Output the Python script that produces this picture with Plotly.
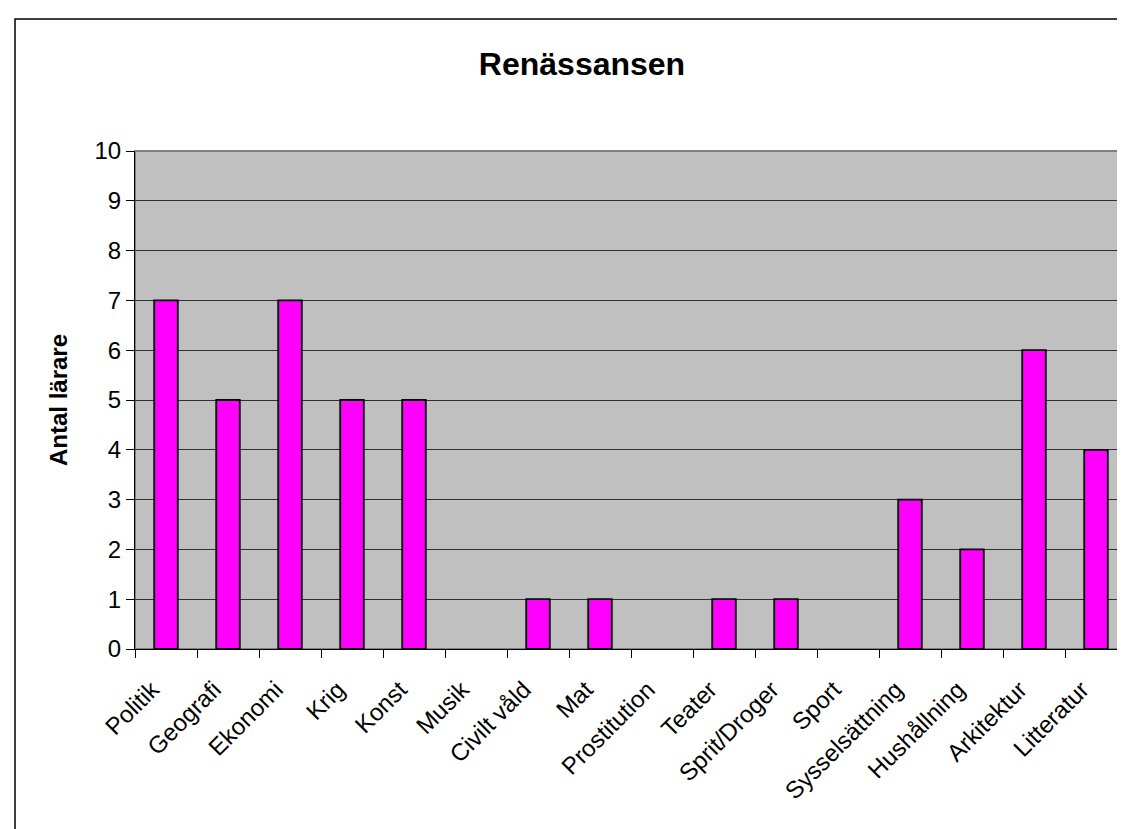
import plotly.graph_objects as go

# Data
categories = ['Politik', 'Geografi', 'Ekonomi', 'Krig', 'Konst', 'Musik',
              'Civilt våld', 'Mat', 'Prostitution', 'Teater', 'Sprit/Droger',
              'Sport', 'Sysselsättning', 'Hushållning', 'Arkitektur', 'Litteratur']
antal = [7, 5, 7, 5, 5, 0, 1, 1, 0, 1, 1, 0, 3, 2, 6, 4]
y_ticks = list(range(0, 11))

FONT = 'Liberation Sans, Arial, sans-serif'

fig = go.Figure()
fig.add_bar(
    x=categories,
    y=antal,
    width=0.38,
    marker=dict(color='#FF00FF',
                line=dict(color='black',
                          width=[1.8 if v > 0 else 0 for v in antal])),
    showlegend=False,
)

W, H = 1125, 829
L, R, T, B = 127, 6, 143, 188
pw, ph = W - L - R, H - T - B

fig.update_layout(
    width=W, height=H,
    margin=dict(l=L, r=R, t=T, b=B),
    paper_bgcolor='white',
    plot_bgcolor='#C0C0C0',
    font=dict(family=FONT, size=24, color='black'),
    title=dict(text='<b>Renässansen</b>', font=dict(size=32, family=FONT),
               xref='container', x=574 / W, xanchor='center',
               yref='container', y=1 - 56 / H, yanchor='middle'),
)

fig.update_xaxes(
    type='category',
    showgrid=False,
    showline=True, linecolor='black', linewidth=1,
    ticks='outside', tickson='boundaries', ticklen=8, tickcolor='black',
    tickangle=-45,
    ticklabelstandoff=16,
    ticklabelshift=-14,
    tickfont=dict(size=24),
)
fig.update_yaxes(
    range=[0, 10],
    tickvals=y_ticks,
    showgrid=True, gridcolor='#303030', gridwidth=1,
    zeroline=False,
    showline=True, linecolor='black', linewidth=1,
    ticks='outside', ticklen=8, tickcolor='black',
    tickfont=dict(size=24),
)

# Y axis title
fig.add_annotation(
    text='<b>Antal lärare</b>', textangle=-90,
    xref='paper', yref='paper',
    x=(50 - L) / pw, y=0.5, xanchor='center', yanchor='middle',
    showarrow=False, font=dict(size=24, family=FONT),
)

# Plot area border (gray) and chart outer border (black, runs off the page)
fig.add_shape(type='rect', xref='paper', yref='paper',
              x0=0, x1=1, y0=0, y1=1,
              line=dict(color='#808080', width=2), layer='below')
fig.add_shape(type='rect', xref='paper', yref='paper',
              x0=(7 - L) / pw, x1=(W + 20 - L) / pw,
              y0=(T + ph - (H + 20)) / ph, y1=(T + ph - 11) / ph,
              line=dict(color='black', width=1.5))

fig.write_html('out.html')
